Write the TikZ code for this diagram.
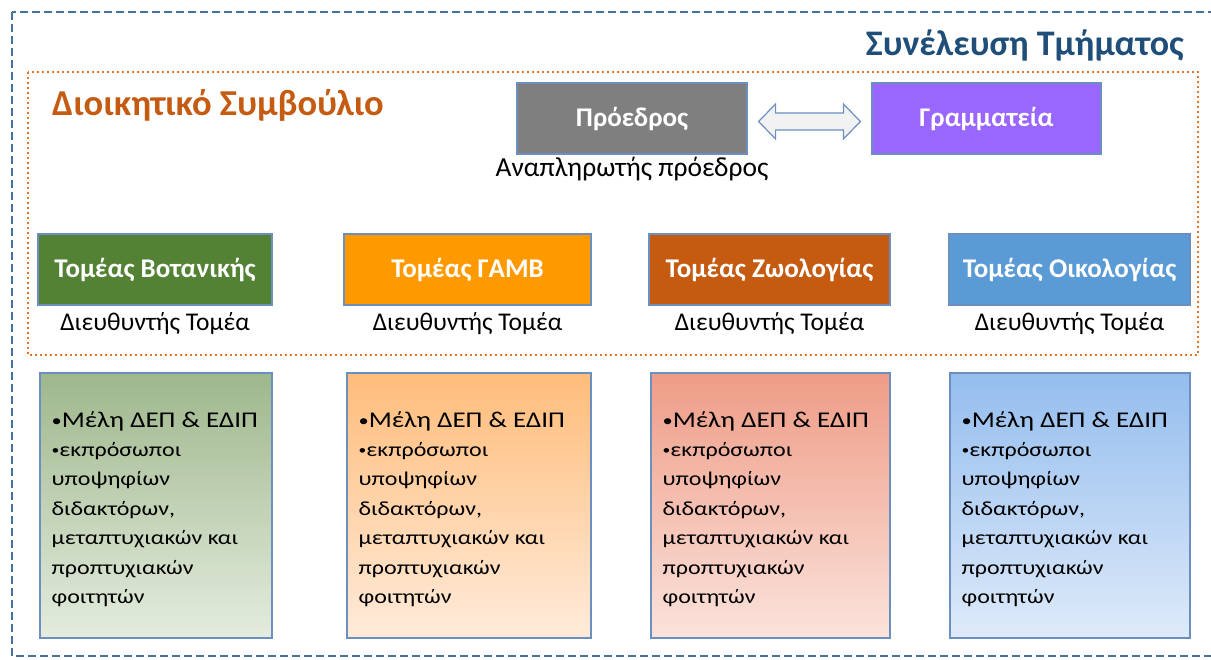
\documentclass[tikz,border=0pt]{standalone}
\usepackage{fontspec}
\setmainfont{Carlito}
\usetikzlibrary{calc}
\definecolor{outerblue}{HTML}{44729E}
\definecolor{dotorange}{HTML}{E0742A}
\definecolor{titleblue}{HTML}{1F4E79}
\definecolor{dsorange}{HTML}{C55A11}
\definecolor{edgeblue}{HTML}{6A8FC0}
\definecolor{prgray}{HTML}{7F7F7F}
\definecolor{grpurple}{HTML}{9966FF}
\definecolor{sgreen}{HTML}{548235}
\definecolor{sorange}{HTML}{FF9900}
\definecolor{sbrown}{HTML}{C55A11}
\definecolor{sblue}{HTML}{5B9BD5}
\definecolor{gtop}{HTML}{9EB78C}\definecolor{gbot}{HTML}{E4ECDE}
\definecolor{otop}{HTML}{FFBC7A}\definecolor{obot}{HTML}{FFEBDA}
\definecolor{rtop}{HTML}{EE9C86}\definecolor{rbot}{HTML}{FBE3DC}
\definecolor{btop}{HTML}{94BDEE}\definecolor{bbot}{HTML}{DEEAF9}
\definecolor{arrfill}{HTML}{F2F2F2}
\tikzset{
  headbox/.style={draw=edgeblue, line width=1.2pt, minimum height=71pt, inner sep=0pt,
    text=white, font=\fontsize{27}{31}\selectfont\bfseries},
  sublabel/.style={font=\fontsize{25.5}{30}\selectfont, inner sep=0pt, anchor=base},
  memberbox/.style={draw=edgeblue, line width=1.2pt, minimum height=265pt, inner sep=0pt},
  membertext/.style={anchor=base west, inner sep=0pt, xscale=1.2, transform shape},
}
\newcommand{\membercontent}{\vtop{\baselineskip=29.5pt\lineskiplimit=-20pt
  \hbox{\fontsize{22.5}{29.5}\selectfont\raisebox{0.05em}{\fontsize{17}{17}\selectfont•}Μέλη ΔΕΠ \& ΕΔΙΠ}\vskip-0.5pt
  \hbox{\fontsize{20}{29.5}\selectfont\raisebox{0.12em}{\fontsize{13}{13}\selectfont•}εκπρόσωποι}
  \hbox{\fontsize{20}{29.5}\selectfont υποψηφίων}
  \hbox{\fontsize{20}{29.5}\selectfont διδακτόρων,}
  \hbox{\fontsize{20}{29.5}\selectfont μεταπτυχιακών και}
  \hbox{\fontsize{20}{29.5}\selectfont προπτυχιακών}
  \hbox{\fontsize{20}{29.5}\selectfont φοιτητών}}}
\begin{document}
\begin{tikzpicture}[x=1pt,y=-1pt]
\useasboundingbox (0,0) rectangle (1211,660);
\clip (0,0) rectangle (1211,660);
% outer dashed frame
\draw[outerblue, line width=2pt, dash pattern=on 8pt off 4pt] (12,12) rectangle (1230,656);
\node[anchor=base east, text=titleblue, font=\fontsize{36}{40}\selectfont\bfseries, inner sep=0pt] (title) at (1184,56) {Συνέλευση Τμήματος};
% orange dotted frame
\draw[dotorange, line width=2.6pt, dash pattern=on 2.4pt off 2.6pt] (28,72) rectangle (1198,355);
\node[anchor=base west, text=dsorange, font=\fontsize{36.5}{40}\selectfont\bfseries, inner sep=0pt] (ds) at (52,116) {Διοικητικό Συμβούλιο};
% president and secretariat
\node[headbox, fill=prgray, minimum width=230pt] (pr) at (632,118.5) {Πρόεδρος};
\node[headbox, fill=grpurple, minimum width=229pt] (gr) at (986.5,118.5) {Γραμματεία};
\node[font=\fontsize{27.5}{32}\selectfont, inner sep=0pt, anchor=base] (vp) at ($(pr.south)+(0,22)$) {Αναπληρωτής πρόεδρος};
% block double arrow between them
\coordinate (aL) at ($(pr.east)+(11,3)$);
\coordinate (aR) at ($(gr.west)+(-11,3)$);
\draw[edgeblue, line width=1.2pt, fill=arrfill, line join=miter]
  (aL) -- ($(aL)+(17,-17.5)$) -- ($(aL)+(17,-8.5)$) -- ($(aR)+(-17,-8.5)$) -- ($(aR)+(-17,-17.5)$)
  -- (aR) -- ($(aR)+(-17,17.5)$) -- ($(aR)+(-17,8.5)$) -- ($(aL)+(17,8.5)$) -- ($(aL)+(17,17.5)$) -- cycle;
% sectors
\node[headbox, fill=sgreen, minimum width=234pt] (s1) at (155,269.5) {Τομέας Βοτανικής};
\node[headbox, fill=sorange, minimum width=247pt] (s2) at (467.5,269.5) {Τομέας ΓΑΜΒ};
\node[headbox, fill=sbrown, minimum width=241pt] (s3) at (769.5,269.5) {Τομέας Ζωολογίας};
\node[headbox, fill=sblue, minimum width=241pt] (s4) at (1069.5,269.5) {Τομέας Οικολογίας};
\foreach \s in {s1,s2,s3,s4}{
  \node[sublabel] (\s lab) at ($(\s.south)+(0,25)$) {Διευθυντής Τομέα};
}
% member boxes
\node[memberbox, top color=gtop, bottom color=gbot, minimum width=232pt] (b1) at (156,505.5) {};
\node[memberbox, top color=otop, bottom color=obot, minimum width=244pt] (b2) at (469,505.5) {};
\node[memberbox, top color=rtop, bottom color=rbot, minimum width=239pt] (b3) at (770.5,505.5) {};
\node[memberbox, top color=btop, bottom color=bbot, minimum width=240pt] (b4) at (1070,505.5) {};
\foreach \b in {b1,b2,b3,b4}{
  \node[membertext] (\b txt) at ($(\b.north west)+(12,55)$) {\membercontent};
}
\end{tikzpicture}
\end{document}
